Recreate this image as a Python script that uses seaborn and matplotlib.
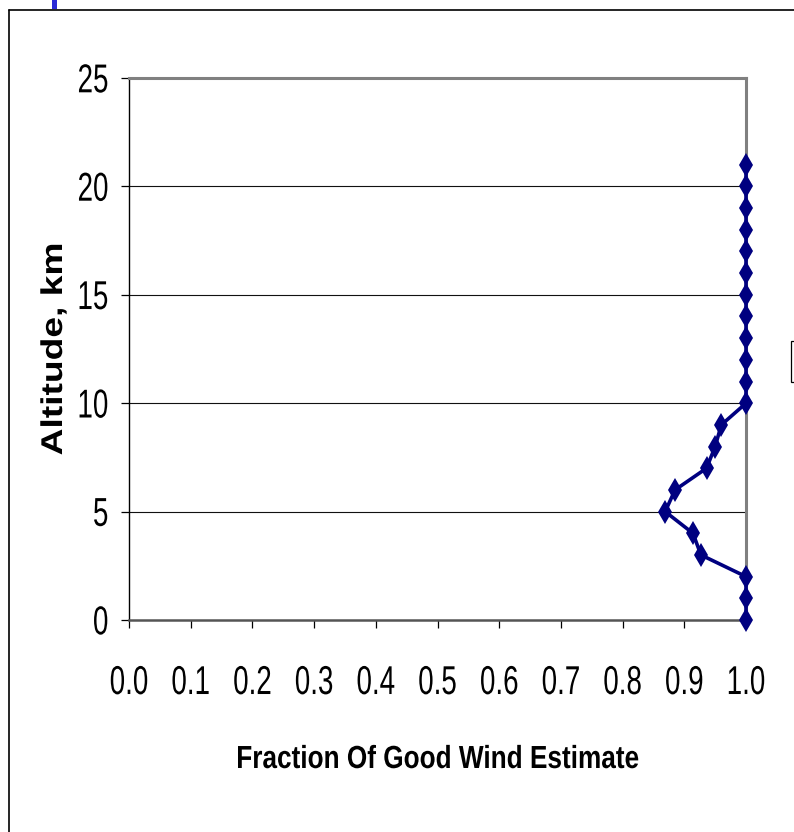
import matplotlib
matplotlib.use("Agg")
import matplotlib.pyplot as plt
import matplotlib.patheffects as pe
from matplotlib.transforms import Affine2D
from matplotlib.lines import Line2D
from matplotlib.patches import Rectangle
import seaborn as sns
import pandas as pd

# Altitude levels (km) and fraction of good wind estimates at each level
altitude_km = [0, 1, 2, 3, 4, 5, 6, 7, 8, 9, 10,
               11, 12, 13, 14, 15, 16, 17, 18, 19, 20, 21]
good_fraction = [1.0, 1.0, 1.0, 0.927, 0.914, 0.869, 0.885, 0.936, 0.950, 0.960, 1.0,
                 1.0, 1.0, 1.0, 1.0, 1.0, 1.0, 1.0, 1.0, 1.0, 1.0, 1.0]

x_ticks = [0.0, 0.1, 0.2, 0.3, 0.4, 0.5, 0.6, 0.7, 0.8, 0.9, 1.0]
y_ticks = [0, 5, 10, 15, 20, 25]
x_title = "Fraction Of Good Wind Estimate"
y_title = "Altitude, km"

df = pd.DataFrame({"alt": altitude_km, "frac": good_fraction})

sns.set_style("white")
narrow = ["Liberation Sans Narrow", "Liberation Sans", "DejaVu Sans"]
wide = ["Liberation Sans", "DejaVu Sans"]
plt.rcParams["font.family"] = narrow


class Stretch(pe.AbstractPathEffect):
    """Scale a text path about its own centre."""

    def __init__(self, sx=1.0, sy=1.0):
        super().__init__()
        self.sx = sx
        self.sy = sy

    def draw_path(self, renderer, gc, tpath, affine, rgbFace=None):
        ext = affine.transform_path(tpath).get_extents()
        cx = 0.5 * (ext.x0 + ext.x1)
        cy = 0.5 * (ext.y0 + ext.y1)
        extra = (Affine2D().translate(-cx, -cy)
                 .scale(self.sx, self.sy).translate(cx, cy))
        renderer.draw_path(gc, tpath, affine + extra, rgbFace)


fig = plt.figure(figsize=(7.94, 8.32), dpi=100)
ax = fig.add_axes([129 / 794, 1 - 620 / 832, 617 / 794, 542 / 832])

sns.lineplot(data=df, x="frac", y="alt", orient="y", estimator=None, sort=False,
             color="#000080", linewidth=2.6, marker="d", markersize=12.5,
             markeredgewidth=0, clip_on=False, zorder=5, ax=ax)

ax.set_xlim(0, 1)
ax.set_ylim(0, 25)
ax.set_xticks(x_ticks)
ax.set_xticklabels([f"{v:.1f}" for v in x_ticks])
ax.set_yticks(y_ticks)
ax.set_yticklabels([str(v) for v in y_ticks])

# horizontal gridlines only
for v in y_ticks[1:-1]:
    ax.axhline(v, color="#111111", linewidth=0.8, zorder=1)

for side in ("top", "right"):
    ax.spines[side].set_color("#808080")
    ax.spines[side].set_linewidth(2.2)
ax.spines["left"].set_color("black")
ax.spines["left"].set_linewidth(1.0)
ax.spines["bottom"].set_color("#555555")
ax.spines["bottom"].set_linewidth(1.8)

ax.tick_params(axis="both", direction="out", length=5.8, width=0.9, color="black",
               labelsize=20, labelcolor="black", bottom=True, left=True)
ax.tick_params(axis="y", pad=9)
ax.tick_params(axis="x", pad=30)
for lab in ax.get_xticklabels() + ax.get_yticklabels():
    lab.set_path_effects([Stretch(1.0, 1.45)])

ax.set_xlabel(x_title, fontsize=23, fontweight="bold", family=wide, va="center",
              color="black")
ax.xaxis.set_label_coords(0.5, (620 - 760) / 542)
ax.xaxis.label.set_path_effects([Stretch(0.82, 1.0)])
ax.set_ylabel(y_title, fontsize=21.6, fontweight="bold", family=wide, va="center",
              color="black")
ax.yaxis.set_label_coords((54 - 129) / 617, 0.5)
ax.yaxis.label.set_path_effects([Stretch(1.0, 1.24)])

# surrounding frame, corner mark and clipped legend box
fig.add_artist(Line2D([9 / 794, 9 / 794], [0, 1 - 10 / 832], transform=fig.transFigure,
                      color="black", linewidth=1.2))
fig.add_artist(Line2D([9 / 794, 1], [1 - 10 / 832, 1 - 10 / 832], transform=fig.transFigure,
                      color="black", linewidth=1.2))
fig.add_artist(Rectangle((52 / 794, 1 - 9 / 832), 5 / 794, 9 / 832, transform=fig.transFigure,
                         facecolor="#2a2ad6", edgecolor="none"))
fig.add_artist(Rectangle((791 / 794, 1 - 382 / 832), 20 / 794, 41 / 832, transform=fig.transFigure,
                         facecolor="white", edgecolor="black", linewidth=0.9))

fig.savefig("out.png", dpi=100, facecolor="white")
